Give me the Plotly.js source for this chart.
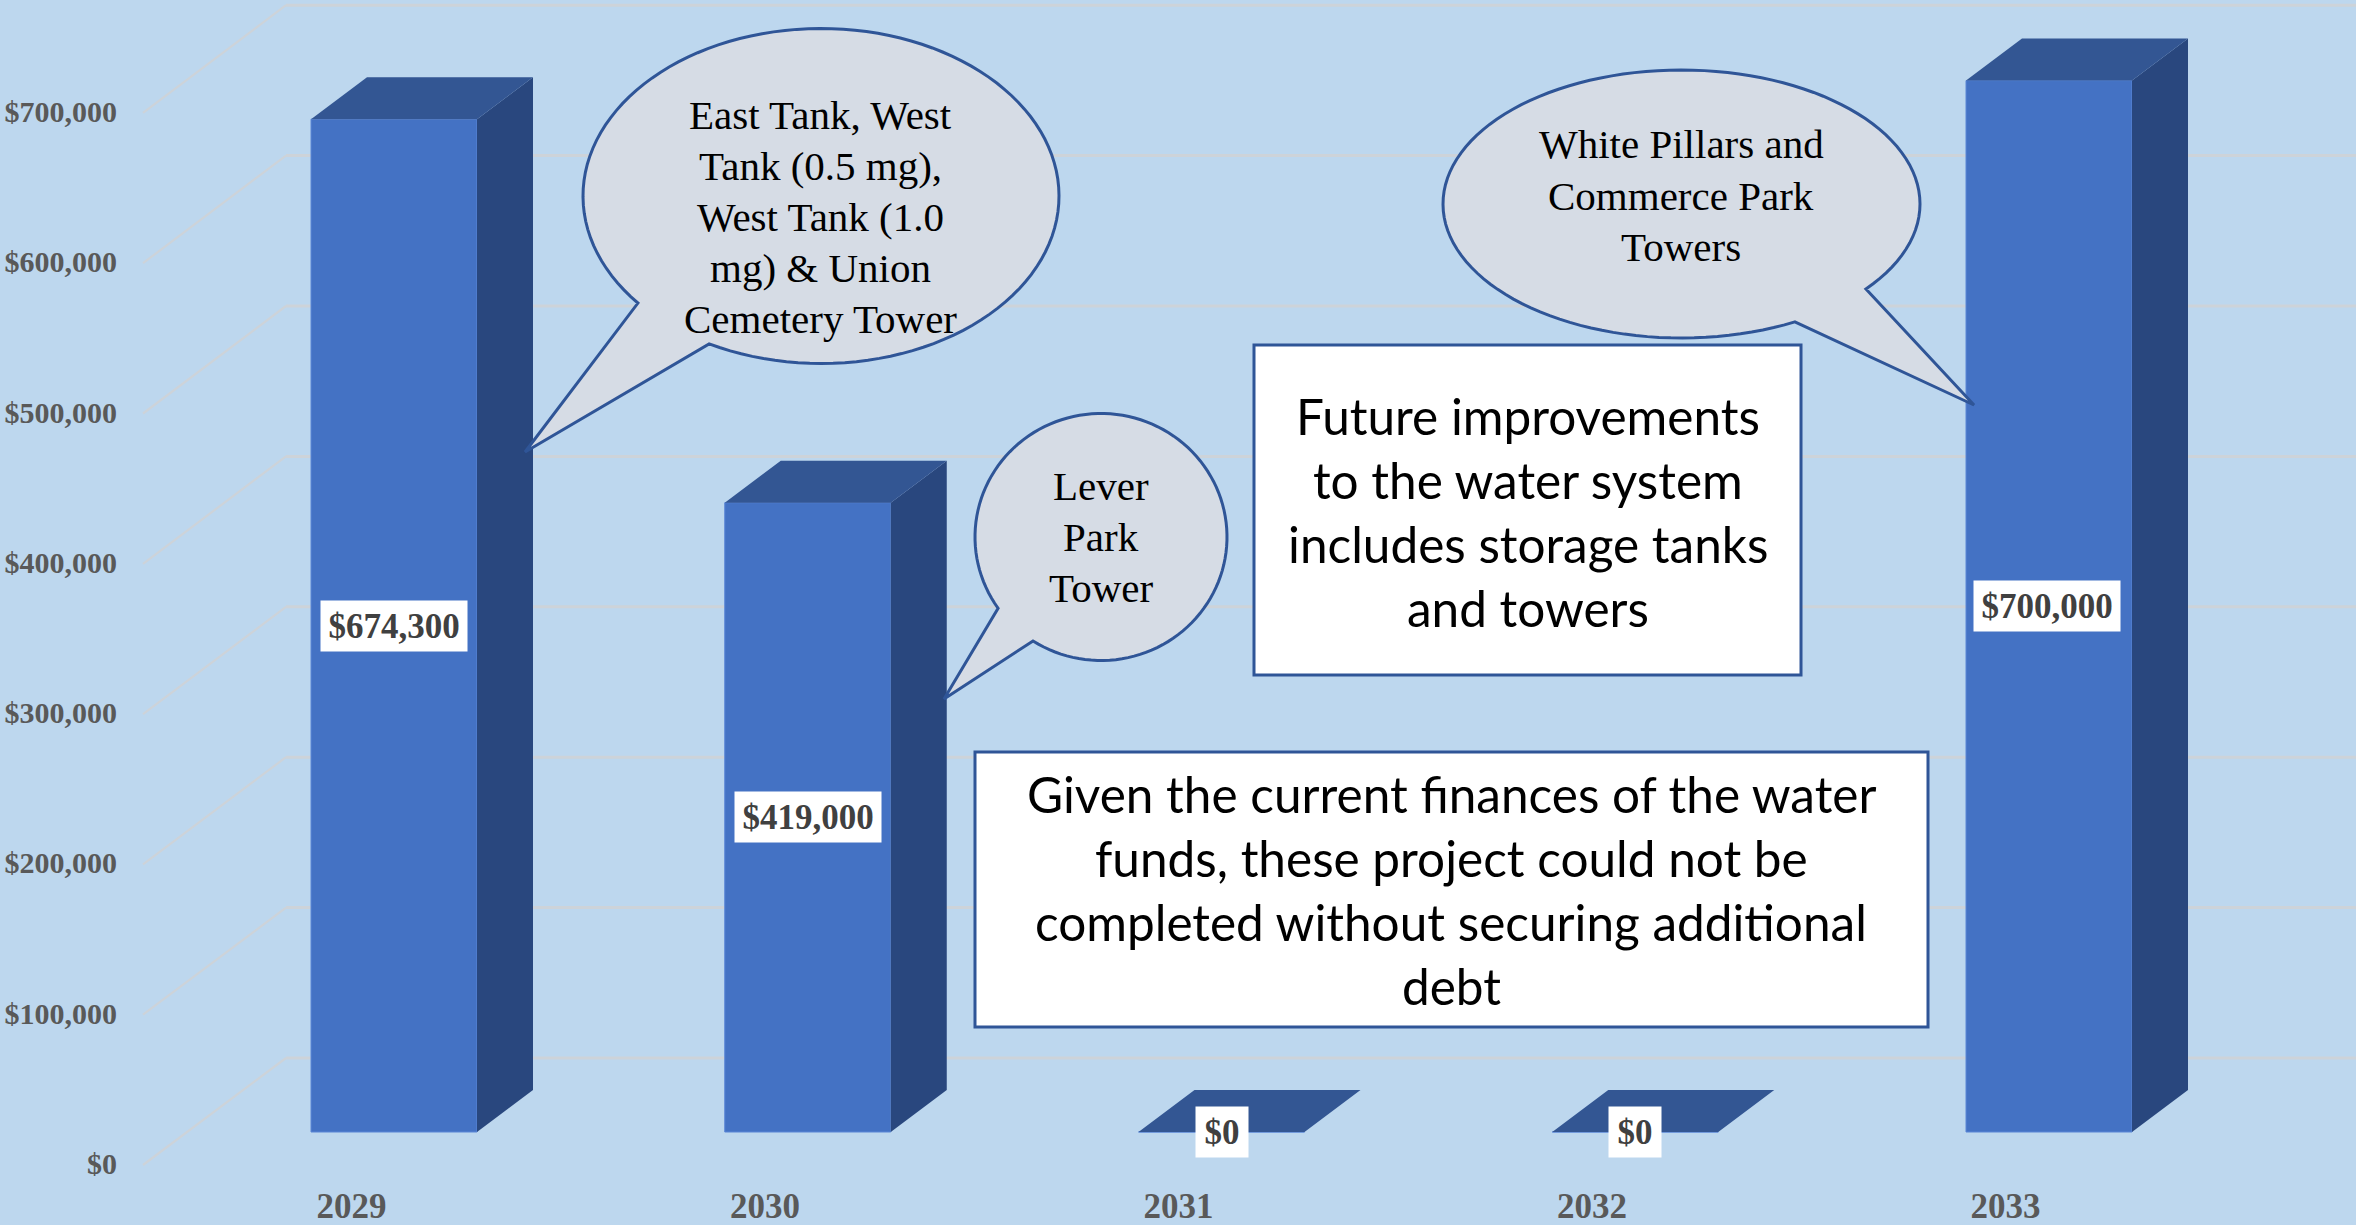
<!DOCTYPE html>
<html>
<head>
<meta charset="utf-8">
<script src="https://cdn.plot.ly/plotly-3.0.1.min.js"></script>
<style>html,body{margin:0;padding:0;background:#bdd7ee;overflow:hidden}#chart{width:2356px;height:1225px}</style>
</head>
<body>
<div id="chart"></div>
<script>
// ---- data ----
const years = [2029, 2030, 2031, 2032, 2033];
const costs = [674300, 419000, 0, 0, 700000];
const yTicks = [0, 100000, 200000, 300000, 400000, 500000, 600000, 700000];
const bubble1Lines = ['East Tank, West', 'Tank (0.5 mg),', 'West Tank (1.0', 'mg) & Union', 'Cemetery Tower'];
const bubble2Lines = ['Lever', 'Park', 'Tower'];
const bubble3Lines = ['White Pillars and', 'Commerce Park', 'Towers'];
const box1Lines = ['Future improvements', 'to the water system', 'includes storage tanks', 'and towers'];
const box2Lines = ['Given the current finances of the water', 'funds, these project could not be', 'completed without securing additional', 'debt'];

// ---- page geometry ----
const W = 2356, H = 1225, L = 128, B = 54, PW = W - L, PH = H - B;
const pxPerYear = 413.75, pxPerDollar = 0.001502;
const xData = px => 2029 + (px - 394) / pxPerYear;        // bars' x axis
const yData = py => (1132 - py) / pxPerDollar;            // bars' y axis
const xLab = px => 2029 + (px - 351.5) / 413.5;           // label x axis
const yLab = py => (1163.5 - py) / 0.001503;              // label y axis
const xp = px => (px - L) / PW, yp = py => 1 - py / PH;   // page px -> paper
const barW = 166 / pxPerYear, dx = 56 / pxPerYear, dy = 42 / pxPerDollar;

// ---- 3-D faces built from the values ----
const sideX = [], sideY = [], topX = [], topY = [];
years.forEach((yr, i) => {
  const v = costs[i], l = yr - barW / 2, r = yr + barW / 2;
  if (v > 0) {
    sideX.push(r, r + dx, r + dx, r, r, null);
    sideY.push(0, dy, v + dy, v, 0, null);
  }
  topX.push(l, r, r + dx, l + dx, l, null);
  topY.push(v, v, v + dy, v + dy, v, null);
});

const traces = [
  {type: 'scatter', x: years, y: years.map(() => 0), xaxis: 'x2', yaxis: 'y2', mode: 'markers',
   marker: {opacity: 0, size: 1}, hoverinfo: 'skip', showlegend: false},
  {type: 'bar', x: years, y: costs, width: barW, xaxis: 'x', yaxis: 'y',
   marker: {color: '#4472c4', line: {color: '#5a86d6', width: 1}}, hoverinfo: 'skip', showlegend: false},
  {type: 'scatter', x: sideX, y: sideY, xaxis: 'x', yaxis: 'y', mode: 'none', fill: 'toself',
   fillcolor: '#29477e', hoverinfo: 'skip', showlegend: false},
  {type: 'scatter', x: topX, y: topY, xaxis: 'x', yaxis: 'y', mode: 'none', fill: 'toself',
   fillcolor: '#335693', hoverinfo: 'skip', showlegend: false}
];

// ---- gridlines on the wall: front diagonal + back line ----
const gridColor = '#cdd3d9';
const shapes = [];
yTicks.forEach(v => {
  const back = yData(1058 - v * 0.001504), front = yData(1165 - v * 0.001503);
  shapes.push({type: 'line', layer: 'below', xref: 'x', yref: 'y', x0: xData(143), x1: xData(286), y0: front, y1: back,
    line: {color: gridColor, width: 2.2}});
  shapes.push({type: 'line', layer: 'below', xref: 'x', yref: 'y', x0: xData(286), x1: xData(2356), y0: back, y1: back,
    line: {color: gridColor, width: 3}});
});

// ---- speech bubbles ----
function bubblePath(cx, cy, rx, ry, b1, tip, b2) {
  const a1 = Math.atan2((b1[1] - cy) / ry, (b1[0] - cx) / rx);
  const a2 = Math.atan2((b2[1] - cy) / ry, (b2[0] - cx) / rx);
  let sweep = a1 - a2;
  if (Math.abs(sweep) < Math.PI) sweep = sweep > 0 ? sweep - 2 * Math.PI : sweep + 2 * Math.PI;
  let d = '';
  const n = 120;
  for (let i = 0; i <= n; i++) {
    const a = a2 + sweep * i / n;
    const x = cx + rx * Math.cos(a), y = cy + ry * Math.sin(a);
    d += (i ? 'L' : 'M') + xp(x).toFixed(5) + ',' + yp(y).toFixed(5);
  }
  d += 'L' + xp(tip[0]).toFixed(5) + ',' + yp(tip[1]).toFixed(5) + 'Z';
  return d;
}
const outline = {color: '#2f5597', width: 3};
[
  [821, 196, 238, 167.5, [638, 303], [525, 452], [709, 344]],
  [1101, 537, 126, 123.5, [998.5, 608], [944, 699], [1033, 641]],
  [1681.5, 204, 238.5, 134, [1866, 289], [1974, 405], [1794, 321]]
].forEach(b => shapes.push({type: 'path', layer: 'above', xref: 'paper', yref: 'paper',
  path: bubblePath(...b), fillcolor: '#d6dce5', line: outline}));

// ---- text boxes ----
[[1254, 345, 1801, 675], [975, 752, 1928, 1027]].forEach(r => shapes.push({type: 'rect', layer: 'above',
  xref: 'paper', yref: 'paper', x0: xp(r[0]), x1: xp(r[2]), y0: yp(r[3]), y1: yp(r[1]),
  fillcolor: '#ffffff', line: {color: '#2f5597', width: 3}}));

// ---- annotations ----
const serif = 'Liberation Serif, Times New Roman, serif', sans = 'Lato, Carlito, Calibri, sans-serif';
const annotations = [];
years.forEach((yr, i) => {
  const t = '$' + costs[i].toLocaleString('en-US');
  annotations.push({xref: 'x', yref: 'y', x: yr, y: costs[i] / 2, xshift: yr === 2033 ? -2.5 : 0, text: t, showarrow: false,
    bgcolor: '#ffffff', width: costs[i] ? 146 : 52, height: 50, borderpad: 0, xanchor: 'center', yanchor: 'middle',
    font: {family: serif, size: 35, color: '#404040', weight: 700}});
});
const note = (lines, cx, cy, family, size, pitch) => lines.forEach((line, i) => annotations.push({
  xref: 'paper', yref: 'paper', x: xp(cx), y: yp(cy + (i - (lines.length - 1) / 2) * pitch),
  text: line, showarrow: false, align: 'center', xanchor: 'center', yanchor: 'middle',
  font: {family, size, color: '#000000'}}));
note(bubble1Lines, 820, 217, serif, 41, 51);
note(bubble2Lines, 1101, 537, serif, 41, 51);
note(bubble3Lines, 1681, 196, serif, 41, 51.5);
note(box1Lines, 1528, 512, sans, 49.5, 64);
note(box2Lines, 1451, 890, sans, 49.5, 64);

const layout = {
  width: W, height: H,
  margin: {l: L, r: 0, t: 0, b: B, pad: 0},
  paper_bgcolor: '#bdd7ee', plot_bgcolor: '#bdd7ee',
  showlegend: false, barmode: 'overlay', hovermode: false,
  xaxis: {type: 'linear', range: [xData(L), xData(W)], showgrid: false, zeroline: false, showticklabels: false, showline: false, ticks: '', fixedrange: true},
  yaxis: {type: 'linear', range: [yData(PH), yData(0)], showgrid: false, zeroline: false, showticklabels: false, showline: false, ticks: '', fixedrange: true},
  xaxis2: {type: 'linear', overlaying: 'x', anchor: 'y2', side: 'bottom', range: [xLab(L), xLab(W)], tickmode: 'array', tickvals: years, ticktext: years.map(String),
    showgrid: false, zeroline: false, showline: false, ticks: 'outside', ticklen: 4, tickcolor: 'rgba(0,0,0,0)', fixedrange: true,
    tickfont: {family: serif, size: 35, color: '#595959', weight: 700}},
  yaxis2: {type: 'linear', overlaying: 'y', anchor: 'x2', side: 'left', range: [yLab(PH), yLab(0)], tickmode: 'array', tickvals: yTicks,
    tickformat: '$,d', showgrid: false, zeroline: false, showline: false, ticks: 'outside', ticklen: 4, tickcolor: 'rgba(0,0,0,0)', fixedrange: true,
    tickfont: {family: serif, size: 30, color: '#595959', weight: 700}},
  shapes, annotations
};
Plotly.newPlot('chart', traces, layout, {displayModeBar: false, staticPlot: true});
</script>
</body>
</html>
